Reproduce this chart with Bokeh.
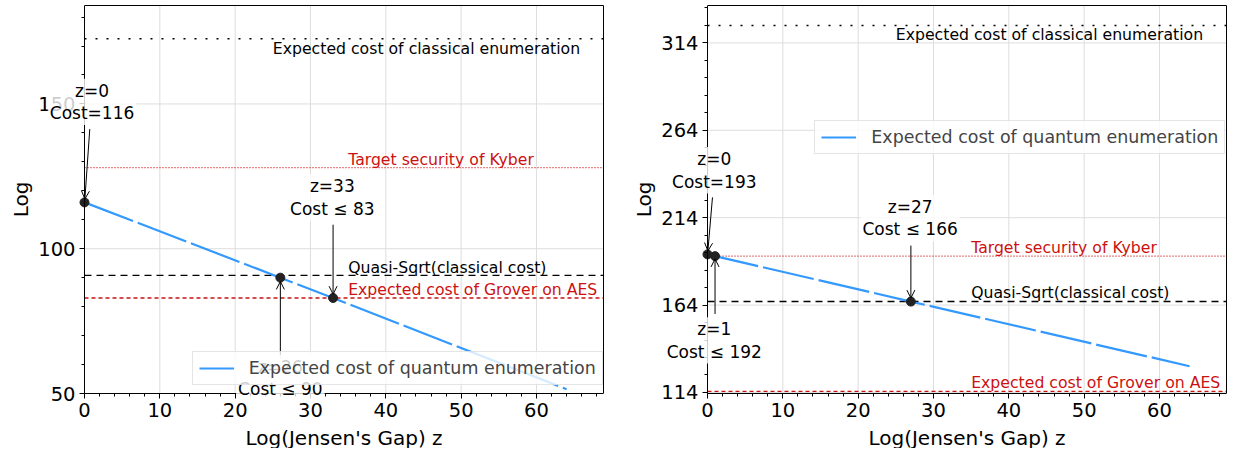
import math
from bokeh.plotting import figure
from bokeh.layouts import row
from bokeh.models import (Label, Arrow, OpenHead, FixedTicker, Range1d, Legend,
                          LegendItem, LinearAxis)
from bokeh.embed import file_html
from bokeh.resources import INLINE

FONT = "DejaVu Sans"
RED = "#cc1111"
BLUE = "#3399ff"
GRID = "#dddddd"

# ---------------- shared x axis ----------------
x_ticks = [0, 10, 20, 30, 40, 50, 60]
x_minor_ticks = [0, 2, 4, 6, 8, 12, 14, 16, 18, 22, 24, 26, 28, 32, 34, 36, 38,
                 42, 44, 46, 48, 52, 54, 56, 58, 62, 64, 66, 68]
x_limits = (0, 68.9)
x_label = "Log(Jensen's Gap) z"
y_label = "Log"
legend_text = "Expected cost of quantum enumeration"

# ---------------- left panel data ----------------
left_z = [0, 26, 33, 64]
left_cost = [116, 90, 83, 51.5]
left_point_z = [0, 26, 33]
left_point_cost = [116, 90, 83]
left_point_text = ["z=0\nCost=116", "z=26\nCost ≤ 90", "z=33\nCost ≤ 83"]
left_classical = 172.5
left_kyber = 128
left_quasi_sqrt = 90.8
left_grover = 83
left_y_ticks = [50, 100, 150]
left_y_minor = [60, 70, 80, 90, 110, 120, 130, 140, 160, 170, 180]
left_y_limits = (50, 184)

# ---------------- right panel data ----------------
right_z = [0, 1, 27, 64]
right_cost = [193, 192, 166, 129]
right_point_z = [0, 1, 27]
right_point_cost = [193, 192, 166]
right_point_text = ["z=0\nCost=193", "z=1\nCost ≤ 192", "z=27\nCost ≤ 166"]
right_classical = 324
right_kyber = 192
right_quasi_sqrt = 166
right_grover = 114.6
right_y_ticks = [114, 164, 214, 264, 314]
right_y_minor = [124, 134, 144, 154, 174, 184, 194, 204, 224, 234, 244, 254,
                 274, 284, 294, 304, 324, 334]
right_y_limits = (113.4, 335.4)

# annotation placement (offsets from the marked point, data units)
left_ann = [
    dict(tx=1.0, ty=34.7, sx=0.7, sy=25.3, ex=0.05, ey=1.2),
    dict(tx=0.0, ty=-34.7, sx=0.0, sy=-28.0, ex=0.0, ey=-1.3),
    dict(tx=-0.1, ty=34.7, sx=0.0, sy=25.3, ex=0.0, ey=1.3),
]
right_ann = [
    dict(tx=0.9, ty=48.1, sx=0.66, sy=32.6, ex=0.05, ey=2.0),
    dict(tx=-0.1, ty=-48.2, sx=0.0, sy=-33.1, ex=0.0, ey=-1.6),
    dict(tx=-0.1, ty=47.7, sx=0.0, sy=32.0, ex=0.0, ey=2.0),
]

PLOT_W = 519           # width of the visible axes box (px)
PLOT_H = 388           # height of the visible axes box (px)
PAD_W = 76             # frame room left of the box (y axis + annotations, unclipped)
PAD_H = 55             # frame room below the box (x axis + annotations, unclipped)


def hline_specs(classical, kyber, quasi, grover, offs):
    return [
        (classical, "Expected cost of classical enumeration", "black", "2 9", 1.5, 25, offs[0]),
        (kyber, "Target security of Kyber", RED, "1 2", 1.2, 35, offs[1]),
        (quasi, "Quasi-Sqrt(classical cost)", "black", "7 5", 1.4, 35, offs[2]),
        (grover, "Expected cost of Grover on AES", RED, "4 3", 1.4, 35, offs[3]),
    ]


def edge_axis(bounds):
    return LinearAxis(ticker=FixedTicker(ticks=[]), axis_line_color="black",
                      axis_line_width=1, major_tick_out=0, major_tick_in=0,
                      minor_tick_out=0, minor_tick_in=0, major_label_standoff=0,
                      major_label_text_font_size="0px", bounds=bounds)


def build(z, cost, pz, pc, ptext, ann, hlines, yticks, yminor, ylim, legend_loc,
          border_left, border_right):
    x_pad = PAD_W * (x_limits[1] - x_limits[0]) / PLOT_W
    y_pad = PAD_H * (ylim[1] - ylim[0]) / PLOT_H
    p = figure(frame_width=PLOT_W + PAD_W, frame_height=PLOT_H + PAD_H,
               x_range=Range1d(x_limits[0] - x_pad, x_limits[1]),
               y_range=Range1d(ylim[0] - y_pad, ylim[1]),
               output_backend="svg", toolbar_location=None,
               min_border_left=border_left, min_border_right=border_right,
               min_border_top=5, min_border_bottom=0,
               background_fill_color="white", border_fill_color="white")
    p.outline_line_color = None

    p.xaxis.ticker = FixedTicker(ticks=x_ticks, minor_ticks=x_minor_ticks)
    p.xaxis.bounds = x_limits
    p.xaxis.fixed_location = ylim[0]
    p.yaxis.ticker = FixedTicker(ticks=yticks, minor_ticks=yminor)
    p.yaxis.bounds = ylim
    p.yaxis.fixed_location = x_limits[0]
    for ax in (p.xaxis, p.yaxis):
        ax.major_label_text_font = FONT
        ax.major_label_text_font_size = "19.5px"
        ax.major_label_text_color = "black"
        ax.axis_line_color = "black"
        ax.major_tick_line_color = "black"
        ax.minor_tick_line_color = "black"
        ax.major_tick_out = 5
        ax.major_tick_in = 0
        ax.minor_tick_out = 3
        ax.minor_tick_in = 0
        ax.major_label_standoff = 4

    p.add_layout(edge_axis(x_limits), "above")
    p.add_layout(edge_axis(ylim), "right")

    # axis titles
    p.add_layout(Label(x=(x_limits[0] + x_limits[1]) / 2, y=ylim[0], y_offset=-44,
                       text=x_label, text_font=FONT, text_font_size="20px",
                       text_align="center", text_baseline="middle", text_color="black"))
    p.add_layout(Label(x=x_limits[0], y=(ylim[0] + ylim[1]) / 2, x_offset=-64,
                       angle=math.pi / 2, text=y_label, text_font=FONT,
                       text_font_size="20px", text_align="center",
                       text_baseline="middle", text_color="black"))

    # grid inside the box only
    p.xgrid.visible = False
    p.ygrid.visible = False
    for t in x_ticks:
        p.line(x=[t, t], y=list(ylim), line_color=GRID, line_width=1)
    for t in yticks:
        p.line(x=list(x_limits), y=[t, t], line_color=GRID, line_width=1)

    for val, txt, color, dash, width, lx, yoff in hlines:
        p.line(x=list(x_limits), y=[val, val], line_color=color,
               line_dash=dash, line_width=width)

    qline = p.line(z, cost, line_color=BLUE, line_width=2.2, line_dash="52 5")
    p.scatter(pz, pc, size=9, color="#222222")

    for val, txt, color, dash, width, lx, yoff in hlines:
        p.add_layout(Label(x=lx, y=val, text=txt, text_color=color, text_font=FONT,
                           text_font_size="15.7px", text_align="left",
                           text_baseline="middle", y_offset=yoff))

    for x0, y0, t, a in zip(pz, pc, ptext, ann):
        p.add_layout(Arrow(end=OpenHead(size=8, line_width=1, line_color="black"),
                           x_start=x0 + a["sx"], y_start=y0 + a["sy"],
                           x_end=x0 + a["ex"], y_end=y0 + a["ey"],
                           line_width=1, line_color="black"))
        p.add_layout(Label(x=x0 + a["tx"], y=y0 + a["ty"], text=t,
                           text_align="center", text_baseline="middle",
                           text_font=FONT, text_font_size="17px",
                           text_line_height=1.12, text_color="black",
                           background_fill_color="white", background_fill_alpha=0.8,
                           padding=2))

    legend = Legend(items=[LegendItem(label=legend_text, renderers=[qline])],
                    location=(legend_loc[0] + PAD_W, legend_loc[1] + PAD_H),
                    orientation="vertical",
                    label_text_font=FONT, label_text_font_size="17.45px",
                    glyph_width=35, glyph_height=18, label_height=18,
                    label_standoff=15, padding=6, spacing=0, margin=0,
                    border_line_color="#cccccc", border_line_width=1,
                    background_fill_color="white", background_fill_alpha=0.8)
    p.add_layout(legend)
    return p


left = build(left_z, left_cost, left_point_z, left_point_cost, left_point_text, left_ann,
             hline_specs(left_classical, left_kyber, left_quasi_sqrt, left_grover,
                         (-10, 8.4, 7.6, 8.7)),
             left_y_ticks, left_y_minor, left_y_limits, (107.7, 7.7), 84 - PAD_W, 17)
right = build(right_z, right_cost, right_point_z, right_point_cost, right_point_text, right_ann,
              hline_specs(right_classical, right_kyber, right_quasi_sqrt, right_grover,
                          (-9.5, 8.3, 9, 9)),
              right_y_ticks, right_y_minor, right_y_limits, (107.3, 239.5), 87 - PAD_W, 3)

layout = row(left, right)
open("out.html", "w").write(file_html(layout, INLINE))
